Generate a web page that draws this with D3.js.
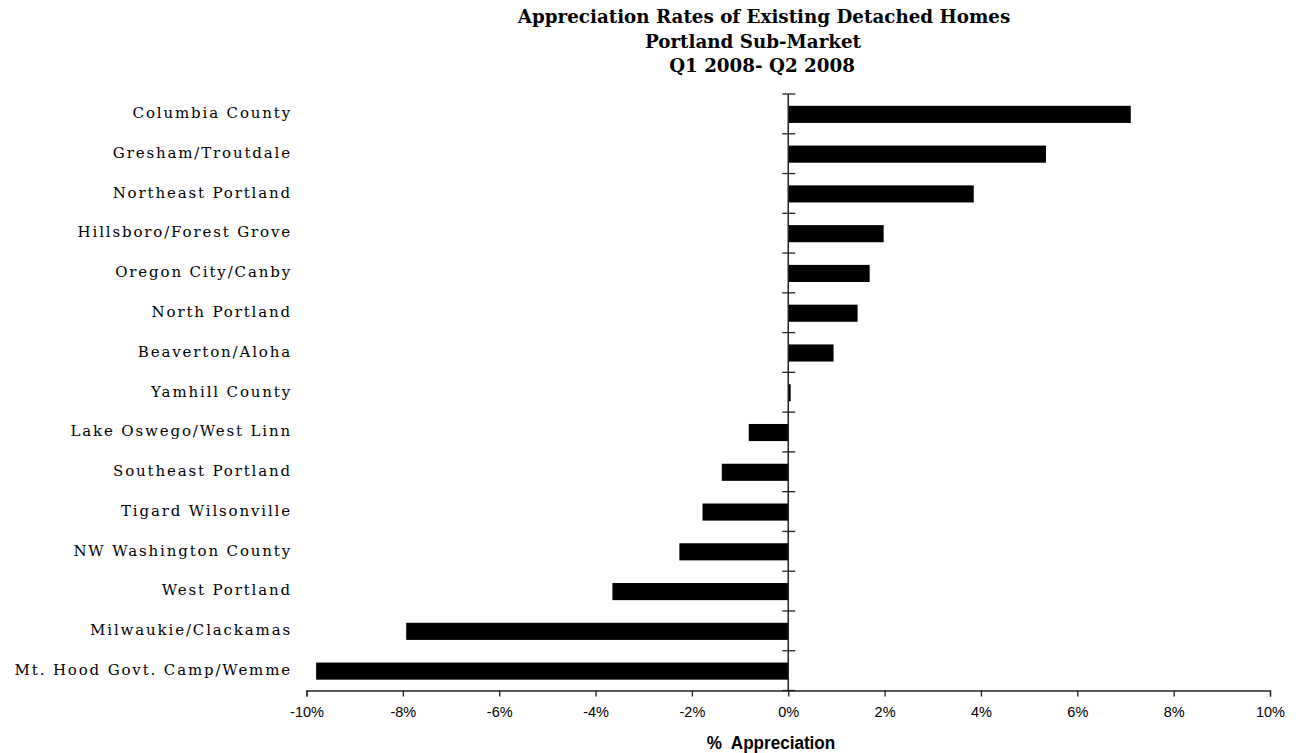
<!DOCTYPE html>
<html>
<head>
<meta charset="utf-8">
<script src="https://cdn.jsdelivr.net/npm/d3@7"></script>
<style>
  html, body { margin: 0; padding: 0; background: #fff; }
  svg { display: block; }
</style>
</head>
<body>
<svg id="chart" width="1296" height="753"></svg>
<script>
// Sub-market areas, top to bottom
const regions = [
  "Columbia County",
  "Gresham/Troutdale",
  "Northeast Portland",
  "Hillsboro/Forest Grove",
  "Oregon City/Canby",
  "North Portland",
  "Beaverton/Aloha",
  "Yamhill County",
  "Lake Oswego/West Linn",
  "Southeast Portland",
  "Tigard Wilsonville",
  "NW Washington County",
  "West Portland",
  "Milwaukie/Clackamas",
  "Mt. Hood Govt. Camp/Wemme"
];

// Quarter-over-quarter appreciation, Q1 2008 to Q2 2008 (fraction)
const appreciation = [
  0.0711, 0.0535, 0.0385, 0.0198, 0.0169, 0.0144, 0.0094, 0.0005,
  -0.0082, -0.0138, -0.0178, -0.0226, -0.0365, -0.0793, -0.0980
];

const xTicks = [-0.10, -0.08, -0.06, -0.04, -0.02, 0, 0.02, 0.04, 0.06, 0.08, 0.10];

const titleLines = [
  "Appreciation Rates of Existing Detached Homes",
  "Portland Sub-Market",
  "Q1 2008- Q2 2008"
];
const xTitle = "%  Appreciation";

const svg = d3.select("#chart");

const plot = { left: 306.5, right: 1270, top: 94, bottom: 690.5 };

const x = d3.scaleLinear().domain([-0.10, 0.10]).range([plot.left, plot.right]);
const y = d3.scaleBand().domain(regions).range([plot.top, plot.bottom]).padding(0);

const barH = y.bandwidth() * 0.43;

// Bars
svg.append("g")
  .selectAll("rect")
  .data(regions)
  .join("rect")
  .attr("x", (d, i) => Math.min(x(0), x(appreciation[i])))
  .attr("y", d => y(d) + (y.bandwidth() - barH) / 2 + 0.5)
  .attr("width", (d, i) => Math.abs(x(appreciation[i]) - x(0)))
  .attr("height", barH)
  .attr("fill", "#000");

// Horizontal value axis (plain hyphen for negatives)
const pct = d3.format(".0%");
const xAxis = d3.axisBottom(x)
  .tickValues(xTicks)
  .tickFormat(d => pct(d).replace("\u2212", "-"))
  .tickSize(6)
  .tickPadding(10)
  .tickSizeOuter(6);

const gx = svg.append("g")
  .attr("transform", `translate(0,${plot.bottom})`)
  .call(xAxis);
gx.select(".domain").attr("stroke", "#222").attr("stroke-width", 1.3);
gx.selectAll(".tick line").attr("stroke", "#222").attr("stroke-width", 1.3);
gx.selectAll(".tick text")
  .attr("font-family", "'Liberation Sans', Arial, sans-serif")
  .attr("font-size", 14.5)
  .attr("fill", "#000");

// Category axis drawn at zero, with crossing ticks on band boundaries
const boundaries = regions.map(d => y(d)).concat([plot.bottom]);
const gy = svg.append("g");
gy.append("line")
  .attr("x1", x(0)).attr("x2", x(0))
  .attr("y1", plot.top).attr("y2", plot.bottom)
  .attr("stroke", "#222").attr("stroke-width", 1.5);
gy.selectAll("line.tick")
  .data(boundaries)
  .join("line")
  .attr("class", "tick")
  .attr("x1", x(0) - 6).attr("x2", x(0) + 7)
  .attr("y1", d => d).attr("y2", d => d)
  .attr("stroke", "#222").attr("stroke-width", 1.3);

// Category labels
svg.append("g")
  .selectAll("text")
  .data(regions)
  .join("text")
  .attr("x", 292)
  .attr("y", d => y(d) + y.bandwidth() / 2 - 1)
  .attr("dy", "0.35em")
  .attr("text-anchor", "end")
  .attr("font-family", "'DejaVu Serif', 'Liberation Serif', serif")
  .attr("font-size", 15)
  .attr("letter-spacing", 1.85)
  .attr("fill", "#000")
  .text(d => d);

// Title, three centred lines
const titleX = [764, 753, 762];
svg.append("g")
  .selectAll("text")
  .data(titleLines)
  .join("text")
  .attr("x", (d, i) => titleX[i])
  .attr("y", (d, i) => 23 + i * 24.5)
  .attr("text-anchor", "middle")
  .attr("font-family", "'DejaVu Serif', 'Liberation Serif', serif")
  .attr("font-weight", "bold")
  .attr("font-size", 18.3)
  .attr("fill", "#000")
  .text(d => d);

// Value axis title (narrow bold sans)
svg.append("text")
  .attr("x", 771)
  .attr("y", 749)
  .attr("text-anchor", "middle")
  .attr("font-family", "'Liberation Sans', Arial, sans-serif")
  .attr("font-weight", "bold")
  .attr("font-size", 19)
  .attr("transform", "translate(771,0) scale(0.9,1) translate(-771,0)")
  .attr("fill", "#000")
  .attr("xml:space", "preserve")
  .text(xTitle);
</script>
</body>
</html>
